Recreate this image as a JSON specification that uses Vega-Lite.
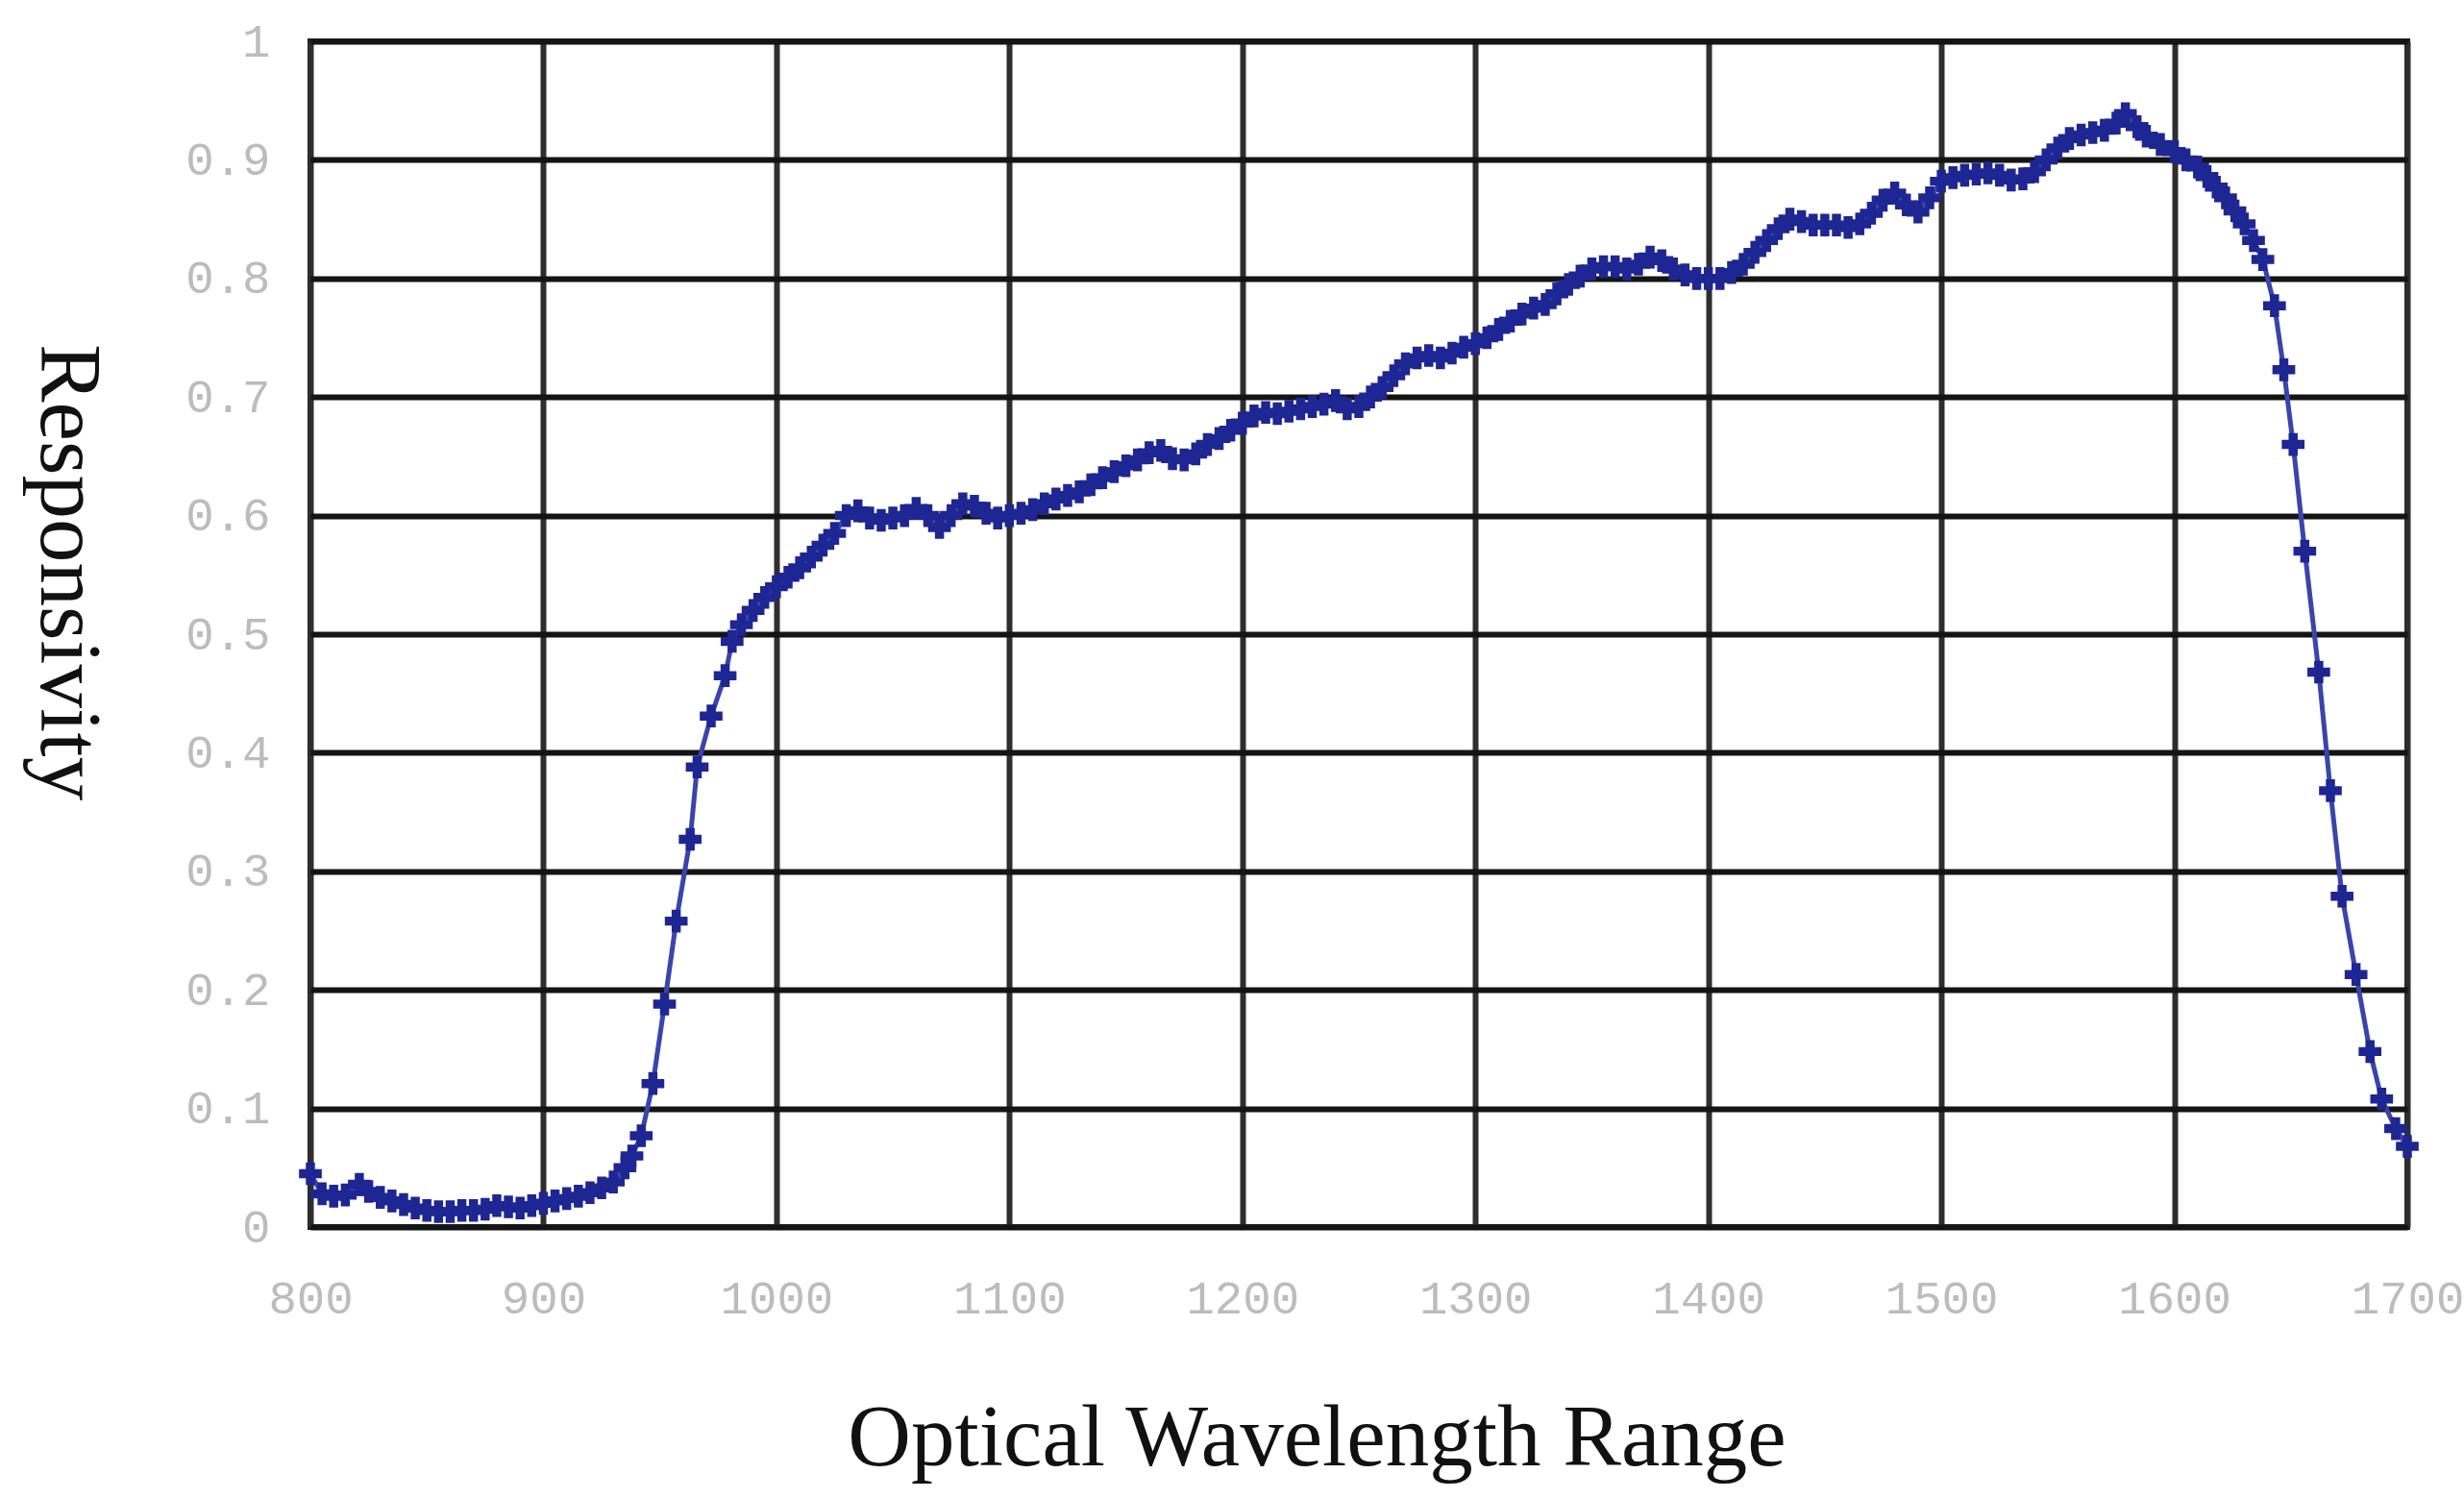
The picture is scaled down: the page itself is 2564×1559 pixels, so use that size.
{
  "$schema": "https://vega.github.io/schema/vega-lite/v6.json",
  "width": 2182,
  "height": 1234,
  "autosize": {"type": "none"},
  "padding": {"left": 323, "top": 43, "right": 59, "bottom": 282},
  "background": "white",
  "config": {
    "view": {"stroke": "#1e1e1e", "strokeWidth": 6},
    "axis": {
      "domain": false,
      "ticks": false,
      "labelFlush": false,
      "labelOverlap": false,
      "labelFont": "Liberation Mono",
      "labelFontSize": 49,
      "labelColor": "#bcbcbc",
      "titleFont": "Liberation Serif",
      "titleFontSize": 91,
      "titleFontWeight": "normal",
      "titleColor": "#111111"
    }
  },
  "data": {"values": [
    {"wl": 800, "r": 0.045}, {"wl": 805, "r": 0.028}, {"wl": 810, "r": 0.026}, {"wl": 815, "r": 0.027},
    {"wl": 821, "r": 0.036}, {"wl": 825, "r": 0.030}, {"wl": 830, "r": 0.025}, {"wl": 835, "r": 0.022},
    {"wl": 840, "r": 0.019}, {"wl": 845, "r": 0.016}, {"wl": 850, "r": 0.014}, {"wl": 855, "r": 0.013},
    {"wl": 860, "r": 0.013}, {"wl": 865, "r": 0.014}, {"wl": 870, "r": 0.014}, {"wl": 875, "r": 0.015},
    {"wl": 880, "r": 0.018}, {"wl": 885, "r": 0.017}, {"wl": 890, "r": 0.016}, {"wl": 895, "r": 0.018},
    {"wl": 900, "r": 0.020}, {"wl": 905, "r": 0.022}, {"wl": 910, "r": 0.024}, {"wl": 915, "r": 0.026},
    {"wl": 920, "r": 0.029}, {"wl": 925, "r": 0.033}, {"wl": 930, "r": 0.038}, {"wl": 935, "r": 0.050},
    {"wl": 938, "r": 0.060}, {"wl": 942, "r": 0.077}, {"wl": 947, "r": 0.121}, {"wl": 952, "r": 0.188},
    {"wl": 957, "r": 0.258}, {"wl": 963, "r": 0.327}, {"wl": 966, "r": 0.388}, {"wl": 972, "r": 0.431},
    {"wl": 978, "r": 0.465}, {"wl": 981, "r": 0.494}, {"wl": 985, "r": 0.508}, {"wl": 990, "r": 0.520},
    {"wl": 995, "r": 0.531}, {"wl": 1000, "r": 0.540}, {"wl": 1005, "r": 0.548}, {"wl": 1010, "r": 0.556},
    {"wl": 1015, "r": 0.565}, {"wl": 1020, "r": 0.575}, {"wl": 1025, "r": 0.585}, {"wl": 1030, "r": 0.600},
    {"wl": 1035, "r": 0.604}, {"wl": 1040, "r": 0.598}, {"wl": 1045, "r": 0.596}, {"wl": 1050, "r": 0.598},
    {"wl": 1055, "r": 0.600}, {"wl": 1060, "r": 0.606}, {"wl": 1065, "r": 0.600}, {"wl": 1070, "r": 0.590},
    {"wl": 1075, "r": 0.600}, {"wl": 1080, "r": 0.610}, {"wl": 1085, "r": 0.608}, {"wl": 1090, "r": 0.602},
    {"wl": 1095, "r": 0.598}, {"wl": 1100, "r": 0.600}, {"wl": 1105, "r": 0.602}, {"wl": 1110, "r": 0.605},
    {"wl": 1115, "r": 0.610}, {"wl": 1120, "r": 0.614}, {"wl": 1125, "r": 0.617}, {"wl": 1130, "r": 0.620},
    {"wl": 1135, "r": 0.626}, {"wl": 1140, "r": 0.632}, {"wl": 1145, "r": 0.637}, {"wl": 1150, "r": 0.642},
    {"wl": 1155, "r": 0.647}, {"wl": 1160, "r": 0.653}, {"wl": 1165, "r": 0.655}, {"wl": 1170, "r": 0.648},
    {"wl": 1175, "r": 0.647}, {"wl": 1180, "r": 0.652}, {"wl": 1185, "r": 0.660}, {"wl": 1190, "r": 0.665},
    {"wl": 1195, "r": 0.672}, {"wl": 1200, "r": 0.678}, {"wl": 1205, "r": 0.684}, {"wl": 1210, "r": 0.687},
    {"wl": 1215, "r": 0.686}, {"wl": 1220, "r": 0.688}, {"wl": 1225, "r": 0.690}, {"wl": 1230, "r": 0.692},
    {"wl": 1235, "r": 0.694}, {"wl": 1240, "r": 0.697}, {"wl": 1245, "r": 0.690}, {"wl": 1250, "r": 0.692},
    {"wl": 1255, "r": 0.700}, {"wl": 1260, "r": 0.708}, {"wl": 1265, "r": 0.718}, {"wl": 1270, "r": 0.728},
    {"wl": 1275, "r": 0.733}, {"wl": 1280, "r": 0.735}, {"wl": 1285, "r": 0.733}, {"wl": 1290, "r": 0.737},
    {"wl": 1295, "r": 0.742}, {"wl": 1300, "r": 0.745}, {"wl": 1305, "r": 0.750}, {"wl": 1310, "r": 0.757},
    {"wl": 1315, "r": 0.764}, {"wl": 1320, "r": 0.770}, {"wl": 1325, "r": 0.775}, {"wl": 1330, "r": 0.778},
    {"wl": 1335, "r": 0.787}, {"wl": 1340, "r": 0.795}, {"wl": 1345, "r": 0.802}, {"wl": 1350, "r": 0.808},
    {"wl": 1355, "r": 0.810}, {"wl": 1360, "r": 0.810}, {"wl": 1365, "r": 0.808}, {"wl": 1370, "r": 0.812},
    {"wl": 1375, "r": 0.818}, {"wl": 1380, "r": 0.815}, {"wl": 1385, "r": 0.808}, {"wl": 1390, "r": 0.803},
    {"wl": 1395, "r": 0.800}, {"wl": 1400, "r": 0.800}, {"wl": 1405, "r": 0.800}, {"wl": 1410, "r": 0.805},
    {"wl": 1415, "r": 0.812}, {"wl": 1420, "r": 0.822}, {"wl": 1425, "r": 0.832}, {"wl": 1430, "r": 0.842},
    {"wl": 1435, "r": 0.850}, {"wl": 1440, "r": 0.848}, {"wl": 1445, "r": 0.845}, {"wl": 1450, "r": 0.845},
    {"wl": 1455, "r": 0.845}, {"wl": 1460, "r": 0.843}, {"wl": 1465, "r": 0.846}, {"wl": 1470, "r": 0.855},
    {"wl": 1475, "r": 0.866}, {"wl": 1480, "r": 0.872}, {"wl": 1485, "r": 0.862}, {"wl": 1490, "r": 0.856},
    {"wl": 1495, "r": 0.868}, {"wl": 1500, "r": 0.882}, {"wl": 1505, "r": 0.885}, {"wl": 1510, "r": 0.887},
    {"wl": 1515, "r": 0.888}, {"wl": 1520, "r": 0.889}, {"wl": 1525, "r": 0.887}, {"wl": 1530, "r": 0.883},
    {"wl": 1535, "r": 0.884}, {"wl": 1540, "r": 0.890}, {"wl": 1545, "r": 0.900}, {"wl": 1550, "r": 0.910},
    {"wl": 1555, "r": 0.918}, {"wl": 1560, "r": 0.921}, {"wl": 1565, "r": 0.923}, {"wl": 1570, "r": 0.925},
    {"wl": 1575, "r": 0.931}, {"wl": 1579, "r": 0.939}, {"wl": 1584, "r": 0.928}, {"wl": 1588, "r": 0.920},
    {"wl": 1594, "r": 0.913}, {"wl": 1600, "r": 0.907}, {"wl": 1605, "r": 0.900}, {"wl": 1610, "r": 0.894},
    {"wl": 1614, "r": 0.886}, {"wl": 1618, "r": 0.877}, {"wl": 1622, "r": 0.868}, {"wl": 1626, "r": 0.857},
    {"wl": 1630, "r": 0.846}, {"wl": 1634, "r": 0.832}, {"wl": 1638, "r": 0.816}, {"wl": 1643, "r": 0.777},
    {"wl": 1647, "r": 0.723}, {"wl": 1651, "r": 0.660}, {"wl": 1656, "r": 0.570}, {"wl": 1662, "r": 0.468},
    {"wl": 1667, "r": 0.368}, {"wl": 1672, "r": 0.279}, {"wl": 1678, "r": 0.213}, {"wl": 1684, "r": 0.148},
    {"wl": 1689, "r": 0.108}, {"wl": 1695, "r": 0.083}, {"wl": 1700, "r": 0.068}
  ]},
  "encoding": {
    "x": {
      "field": "wl", "type": "quantitative",
      "scale": {"domain": [800, 1700], "nice": false, "zero": false},
      "axis": {
        "values": [800, 900, 1000, 1100, 1200, 1300, 1400, 1500, 1600, 1700],
        "format": "d",
        "title": "Optical Wavelength Range",
        "labelPadding": 50,
        "gridColor": "#2e2e2e",
        "gridWidth": 6,
        "gridOpacity": 1,
        "titleX": 1047,
        "titleY": 247,
        "titleBaseline": "alphabetic",
        "titleAnchor": "middle",
        "titleAlign": "center"
      }
    },
    "y": {
      "field": "r", "type": "quantitative",
      "scale": {"domain": [0, 1], "nice": false},
      "axis": {
        "values": [0, 0.1, 0.2, 0.3, 0.4, 0.5, 0.6, 0.7, 0.8, 0.9, 1],
        "format": "~g",
        "title": "Responsivity",
        "labelPadding": 42,
        "gridColor": "#141414",
        "gridWidth": 6,
        "gridOpacity": 1,
        "titleAngle": 90,
        "titleX": -281,
        "titleY": 552,
        "titleBaseline": "alphabetic",
        "titleAlign": "center"
      }
    }
  },
  "layer": [
    {"mark": {"type": "line", "color": "#3a44ab", "strokeWidth": 5}},
    {"mark": {"type": "point", "shape": "cross", "filled": true, "size": 560, "color": "#1d2692", "opacity": 1}}
  ]
}
